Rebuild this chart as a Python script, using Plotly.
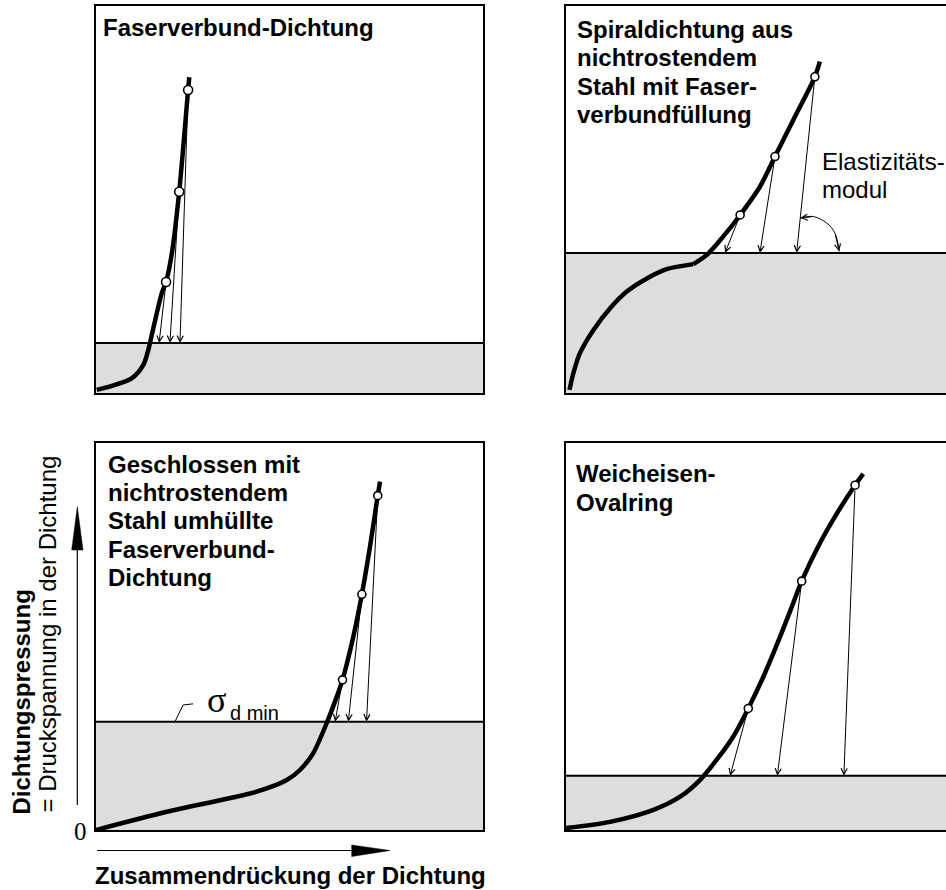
import plotly.graph_objects as go

W, H = 946, 890

# ---------------- data (normalised: x = compression, y = gasket pressure) ----------------
titles = [
    ["Faserverbund-Dichtung"],
    ["Spiraldichtung aus", "nichtrostendem", "Stahl mit Faser-", "verbundfüllung"],
    ["Geschlossen mit", "nichtrostendem", "Stahl umhüllte", "Faserverbund-", "Dichtung"],
    ["Weicheisen-", "Ovalring"],
]

# Panel 1: Faserverbund-Dichtung
p1_x = [0.002, 0.092, 0.122, 0.135, 0.148, 0.170, 0.181, 0.196, 0.215, 0.238, 0.241]
p1_y = [0.008, 0.038, 0.072, 0.111, 0.167, 0.258, 0.287, 0.361, 0.520, 0.783, 0.816]
p1_mx = [0.181, 0.215, 0.238]
p1_my = [0.287, 0.520, 0.783]
p1_foot = [0.163, 0.191, 0.217]
p1_base = 0.129

# Panel 2: Spiraldichtung (lower settling branch + upper loading branch)
p2_low_x = [0.009, 0.019, 0.036, 0.071, 0.114, 0.157, 0.209, 0.260, 0.329]
p2_low_y = [0.008, 0.051, 0.103, 0.163, 0.219, 0.262, 0.296, 0.320, 0.333]
p2_up_x = [0.329, 0.364, 0.406, 0.450, 0.501, 0.540, 0.587, 0.643, 0.656]
p2_up_y = [0.333, 0.357, 0.404, 0.460, 0.533, 0.611, 0.705, 0.817, 0.856]
p2_mx = [0.450, 0.540, 0.643]
p2_my = [0.460, 0.611, 0.817]
p2_foot = [0.411, 0.501, 0.596]
p2_base = 0.362
p2_arc_x = [0.605, 0.639, 0.674, 0.695, 0.706]
p2_arc_y = [0.452, 0.456, 0.439, 0.413, 0.366]

# Panel 3: Geschlossen umhüllte Faserverbund-Dichtung
p3_x = [0.0, 0.183, 0.415, 0.493, 0.527, 0.561, 0.596, 0.622, 0.637, 0.665, 0.687, 0.708, 0.728, 0.734]
p3_y = [0.0, 0.047, 0.099, 0.129, 0.155, 0.198, 0.276, 0.344, 0.388, 0.500, 0.609, 0.732, 0.864, 0.900]
p3_mx = [0.637, 0.687, 0.728]
p3_my = [0.388, 0.609, 0.864]
p3_foot = [0.618, 0.652, 0.699]
p3_base = 0.280
p3_lead_x = [0.204, 0.225, 0.251]
p3_lead_y = [0.280, 0.323, 0.326]

# Panel 4: Weicheisen-Ovalring
p4_x = [0.0, 0.114, 0.226, 0.295, 0.346, 0.389, 0.432, 0.471, 0.510, 0.553, 0.587, 0.609, 0.656, 0.708, 0.747, 0.768]
p4_y = [0.005, 0.021, 0.052, 0.086, 0.129, 0.181, 0.241, 0.314, 0.396, 0.499, 0.586, 0.643, 0.741, 0.831, 0.891, 0.920]
p4_mx = [0.471, 0.609, 0.747]
p4_my = [0.314, 0.643, 0.891]
p4_foot = [0.424, 0.546, 0.718]
p4_base = 0.140

# ---------------- layout geometry (pixels) ----------------
PANEL = 387
LEFT_X = [96, 566, 96, 566]
TOP_Y = [6, 6, 443, 443]
TITLE_X = [101, 575, 106, 574]
TITLE_TOP = [20.7, 22.7, 457.3, 466.7]
TITLE_SPACING = 28.3
TOP_OFFSET = 8.5

def px(x):
    return x / W

def py(y):
    return 1 - y / H

SANS = "Liberation Sans, Arial, Helvetica, sans-serif"
SERIF = "Liberation Serif, Times New Roman, serif"

fig = go.Figure()

axes_ids = ["", "2", "3", "4"]
layout = dict(
    width=W, height=H, margin=dict(l=0, r=0, t=0, b=0),
    paper_bgcolor="white", plot_bgcolor="white", showlegend=False,
    autosize=False,
)
for i, sid in enumerate(axes_ids):
    x0 = LEFT_X[i]
    x1 = min(x0 + PANEL, W)
    y0 = TOP_Y[i]
    xr = (x1 - x0) / PANEL
    right_panel = i in (1, 3)
    layout["xaxis" + sid] = dict(
        domain=[px(x0), px(x1)], range=[0, xr], showgrid=False, zeroline=False,
        showticklabels=False, ticks="", showline=True, linecolor="black", linewidth=2,
        mirror=True, anchor="y" + sid, fixedrange=True,
    )
    layout["yaxis" + sid] = dict(
        domain=[py(y0 + PANEL), py(y0)], range=[0, 1], showgrid=False, zeroline=False,
        showticklabels=False, ticks="", showline=True, linecolor="black", linewidth=2,
        mirror=not right_panel, anchor="x" + sid, fixedrange=True,
    )
fig.update_layout(**layout)

curves = [
    [(p1_x, p1_y)],
    [(p2_low_x, p2_low_y), (p2_up_x, p2_up_y)],
    [(p3_x, p3_y)],
    [(p4_x, p4_y)],
]
markers = [(p1_mx, p1_my), (p2_mx, p2_my), (p3_mx, p3_my), (p4_mx, p4_my)]
feet = [p1_foot, p2_foot, p3_foot, p4_foot]
bases = [p1_base, p2_base, p3_base, p4_base]

shapes = []
annotations = []

for i, sid in enumerate(axes_ids):
    xa, ya = "x" + sid, "y" + sid
    base = bases[i]
    # shaded region below sigma_d_min
    shapes.append(dict(type="rect", xref=xa + " domain", yref=ya, x0=0, x1=1, y0=0, y1=base,
                       fillcolor="#dddddd", line=dict(width=0), layer="below"))
    shapes.append(dict(type="line", xref=xa + " domain", yref=ya, x0=0, x1=1, y0=base, y1=base,
                       line=dict(color="black", width=2), layer="below"))
    for cx, cy in curves[i]:
        fig.add_trace(go.Scatter(x=cx, y=cy, mode="lines", xaxis=xa, yaxis=ya,
                                 line=dict(color="black", width=4.5, shape="spline", smoothing=0.8),
                                 hoverinfo="skip"))
    mx, my = markers[i]
    fig.add_trace(go.Scatter(x=mx, y=my, mode="markers", xaxis=xa, yaxis=ya, cliponaxis=False,
                             marker=dict(symbol="circle", size=8 if i else 9, color="white",
                                         line=dict(color="black", width=1.6)),
                             hoverinfo="skip"))
    for fx, sx, sy in zip(feet[i], mx, my):
        annotations.append(dict(x=fx, y=base, ax=sx, ay=sy, xref=xa, yref=ya, axref=xa, ayref=ya,
                                text="", showarrow=True, arrowhead=5, arrowsize=1.2, arrowwidth=1,
                                arrowcolor="black", startstandoff=4, standoff=0))
    # panel title
    for k, line in enumerate(titles[i]):
        annotations.append(dict(x=px(TITLE_X[i]),
                                y=py(TITLE_TOP[i] + k * TITLE_SPACING - TOP_OFFSET),
                                xref="paper", yref="paper",
                                xanchor="left", yanchor="top", showarrow=False,
                                text="<b>" + line + "</b>",
                                font=dict(family=SANS, size=24, color="black")))

# Elastizitätsmodul arc in panel 2
fig.add_trace(go.Scatter(x=p2_arc_x, y=p2_arc_y, mode="lines", xaxis="x2", yaxis="y2",
                         line=dict(color="black", width=1, shape="spline"), hoverinfo="skip"))
annotations.append(dict(x=p2_arc_x[0], y=p2_arc_y[0], ax=p2_arc_x[1], ay=p2_arc_y[1],
                        xref="x2", yref="y2", axref="x2", ayref="y2", text="", showarrow=True,
                        arrowhead=5, arrowsize=1.2, arrowwidth=1, arrowcolor="black", standoff=0))
annotations.append(dict(x=p2_arc_x[-1], y=p2_arc_y[-1], ax=p2_arc_x[-2], ay=p2_arc_y[-2],
                        xref="x2", yref="y2", axref="x2", ayref="y2", text="", showarrow=True,
                        arrowhead=5, arrowsize=1.2, arrowwidth=1, arrowcolor="black", standoff=0))
for k, line in enumerate(["Elastizitäts-", "modul"]):
    annotations.append(dict(x=px(820), y=py(155 + k * 27 - TOP_OFFSET), xref="paper", yref="paper",
                            xanchor="left", yanchor="top", showarrow=False, text=line,
                            font=dict(family=SANS, size=24, color="black")))

# sigma_d min label in panel 3
fig.add_trace(go.Scatter(x=p3_lead_x, y=p3_lead_y, mode="lines", xaxis="x3", yaxis="y3",
                         line=dict(color="black", width=1), hoverinfo="skip"))
annotations.append(dict(x=px(216), y=py(700), xref="paper", yref="paper", xanchor="center",
                        yanchor="middle", showarrow=False, text="σ",
                        font=dict(family=SERIF, size=36, color="black")))
annotations.append(dict(x=px(228), y=py(713), xref="paper", yref="paper", xanchor="left",
                        yanchor="middle", showarrow=False, text="d min",
                        font=dict(family=SANS, size=20, color="black")))

# axis labels
annotations.append(dict(x=px(21), y=py(817), xref="paper", yref="paper", xanchor="center",
                        yanchor="bottom", textangle=-90, showarrow=False,
                        text="<b>Dichtungspressung</b>", font=dict(family=SANS, size=24, color="black")))
annotations.append(dict(x=px(47), y=py(815), xref="paper", yref="paper", xanchor="center",
                        yanchor="bottom", textangle=-90, showarrow=False,
                        text="= Druckspannung in der Dichtung", font=dict(family=SANS, size=24, color="black")))
annotations.append(dict(x=px(80), y=py(831), xref="paper", yref="paper", xanchor="center",
                        yanchor="middle", showarrow=False, text="0",
                        font=dict(family=SERIF, size=25, color="black")))
annotations.append(dict(x=px(93), y=py(868 - TOP_OFFSET), xref="paper", yref="paper", xanchor="left",
                        yanchor="top", showarrow=False, text="<b>Zusammendrückung der Dichtung</b>",
                        font=dict(family=SANS, size=24, color="black")))

# axis direction arrows (decoration)
shapes.append(dict(type="line", xref="paper", yref="paper", x0=px(77.3), x1=px(77.3),
                   y0=py(805), y1=py(548), line=dict(color="black", width=1.2)))
shapes.append(dict(type="path", xref="paper", yref="paper",
                   path=f"M {px(71.7)},{py(550)} L {px(77.3)},{py(506.7)} L {px(83.0)},{py(550)} Z",
                   fillcolor="black", line=dict(color="black", width=0.5)))
shapes.append(dict(type="line", xref="paper", yref="paper", x0=px(97), x1=px(353),
                   y0=py(850.5), y1=py(850.5), line=dict(color="black", width=1.2)))
shapes.append(dict(type="path", xref="paper", yref="paper",
                   path=f"M {px(351.7)},{py(845)} L {px(390)},{py(850.5)} L {px(351.7)},{py(856.5)} Z",
                   fillcolor="black", line=dict(color="black", width=0.5)))

fig.update_layout(shapes=shapes, annotations=annotations)
fig.write_html(
    "out.html",
    config={"displayModeBar": False, "staticPlot": True},
    post_script="document.body.style.margin='0';document.body.style.overflow='hidden';",
)
